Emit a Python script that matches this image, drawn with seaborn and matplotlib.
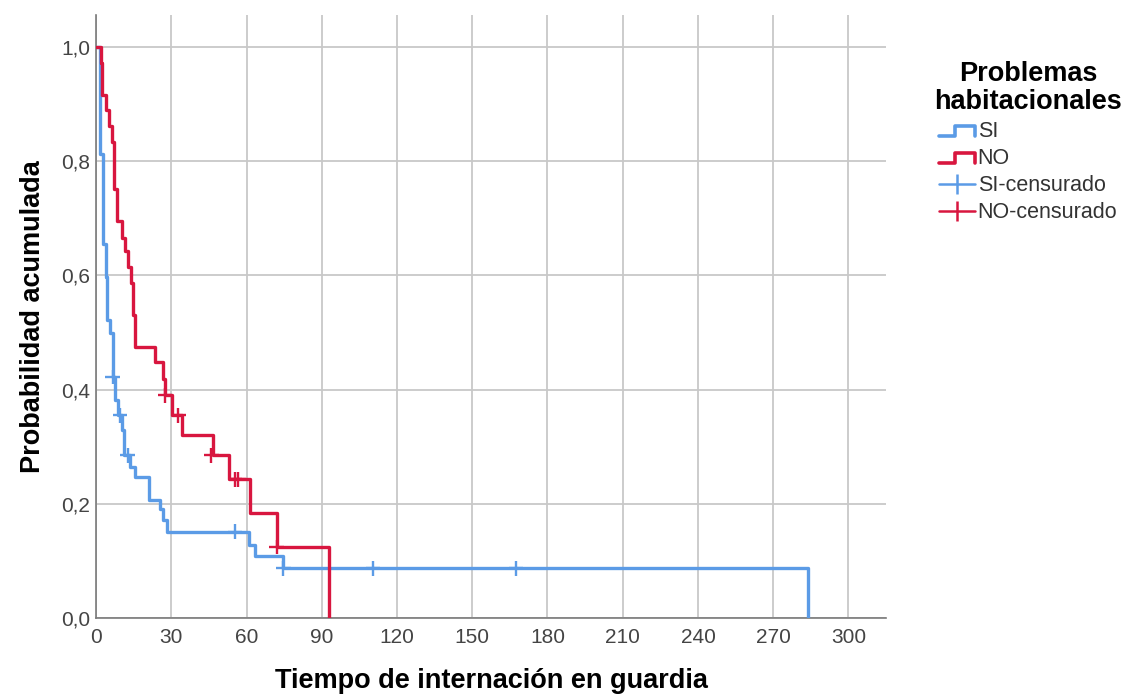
import numpy as np
import pandas as pd
import matplotlib
matplotlib.use("Agg")
import matplotlib.pyplot as plt
from matplotlib.lines import Line2D
from matplotlib.legend_handler import HandlerBase
from matplotlib.ticker import FuncFormatter
import seaborn as sns

# Kaplan-Meier step curves (time of event, cumulative probability after the event)
si_times = [0, 1.6, 2.7, 3.8, 4.5, 5.6, 6.6, 7.6, 8.8, 10.5, 11.2, 13.6, 15.6,
            21.3, 25.5, 26.5, 28.2, 60.8, 63.4, 74.7, 284]
si_probs = [1.0, 0.813, 0.655, 0.598, 0.522, 0.499, 0.422, 0.382, 0.355, 0.33,
            0.285, 0.265, 0.247, 0.207, 0.19, 0.172, 0.151, 0.128, 0.109, 0.087, 0.0]

no_times = [0, 1.8, 2.5, 3.9, 5.3, 6.5, 7.3, 8.2, 10.5, 11.6, 12.9, 13.8, 14.6,
            15.6, 23.5, 26.6, 27.5, 30.2, 34.4, 46.5, 53.0, 61.4, 72.0, 92.7]
no_probs = [1.0, 0.972, 0.916, 0.89, 0.862, 0.834, 0.752, 0.695, 0.665, 0.642,
            0.615, 0.586, 0.531, 0.475, 0.448, 0.418, 0.39, 0.355, 0.32, 0.285,
            0.243, 0.184, 0.124, 0.0]

# Censored observations
si_cens_t = [6.6, 9.6, 12.6, 55.4, 74.7, 110.5, 167.5]
si_cens_p = [0.422, 0.355, 0.285, 0.151, 0.087, 0.087, 0.087]
no_cens_t = [27.5, 32.8, 46.0, 55.4, 56.8, 72.0]
no_cens_p = [0.39, 0.355, 0.285, 0.243, 0.243, 0.124]

groups = ["SI", "NO"]
x_ticks = [0, 30, 60, 90, 120, 150, 180, 210, 240, 270, 300]
y_ticks = [0.0, 0.2, 0.4, 0.6, 0.8, 1.0]

BLUE = "#5B9BE6"
RED = "#D8163F"
palette = {"SI": BLUE, "NO": RED}

curves = pd.concat([
    pd.DataFrame({"t": si_times, "p": si_probs, "grupo": "SI"}),
    pd.DataFrame({"t": no_times, "p": no_probs, "grupo": "NO"}),
], ignore_index=True)
censored = pd.concat([
    pd.DataFrame({"t": si_cens_t, "p": si_cens_p, "grupo": "SI"}),
    pd.DataFrame({"t": no_cens_t, "p": no_cens_p, "grupo": "NO"}),
], ignore_index=True)

sns.set_theme(style="white")
plt.rcParams["font.family"] = ["Liberation Sans", "DejaVu Sans"]

fig = plt.figure(figsize=(11.26, 6.97), dpi=100)
ax = fig.add_axes([0.0853, 0.1134, 0.7016, 0.865])

sns.lineplot(data=curves, x="t", y="p", hue="grupo", hue_order=groups,
             palette=palette, drawstyle="steps-post", estimator=None,
             sort=False, linewidth=2.4, legend=False, ax=ax, zorder=3)
sns.scatterplot(data=censored, x="t", y="p", hue="grupo", hue_order=groups,
                palette=palette, marker="+", s=110, linewidth=1.7,
                legend=False, ax=ax, zorder=4)

ax.set_xlim(0, 315)
ax.set_ylim(0, 1.056)
ax.set_xticks(x_ticks)
ax.set_yticks(y_ticks)
ax.yaxis.set_major_formatter(FuncFormatter(lambda v, _: f"{v:.1f}".replace(".", ",")))
ax.grid(True, color="#C8C8C8", linewidth=1.3)
ax.set_axisbelow(True)
for side in ["top", "right"]:
    ax.spines[side].set_visible(False)
for side in ["left", "bottom"]:
    ax.spines[side].set_color("#7A7A7A")
    ax.spines[side].set_linewidth(1.2)
ax.tick_params(axis="both", labelsize=15, colors="#444444", length=0)
ax.tick_params(axis="x", pad=7)
ax.tick_params(axis="y", pad=4)

ax.set_xlabel("Tiempo de internación en guardia", fontsize=19.5,
              fontweight="bold", color="black", labelpad=15)
ax.set_ylabel("Probabilidad acumulada", fontsize=19.5,
              fontweight="bold", color="black", labelpad=11)


class StepHandler(HandlerBase):
    def create_artists(self, legend, orig_handle, xdescent, ydescent,
                       width, height, fontsize, trans):
        x0 = -xdescent
        y_lo = -ydescent + height * 0.1
        y_hi = -ydescent + height * 0.75
        xs = [x0, x0 + width * 0.45, x0 + width * 0.45, x0 + width, x0 + width]
        ys = [y_lo, y_lo, y_hi, y_hi, y_lo]
        line = Line2D(xs, ys, color=orig_handle.get_color(), linewidth=2.6,
                      transform=trans)
        return [line]


step_si = Line2D([], [], color=BLUE)
step_no = Line2D([], [], color=RED)
cens_si = Line2D([0], [0], color=BLUE, marker="|", markersize=14,
                 markeredgewidth=1.8, linewidth=1.8)
cens_no = Line2D([0], [0], color=RED, marker="|", markersize=14,
                 markeredgewidth=1.8, linewidth=1.8)

leg = fig.legend([step_si, step_no, cens_si, cens_no],
                 ["SI", "NO", "SI-censurado", "NO-censurado"],
                 handler_map={step_si: StepHandler(), step_no: StepHandler()},
                 title="Problemas\nhabitacionales", loc="upper center",
                 bbox_to_anchor=(0.913, 0.912), frameon=False, fontsize=15.5,
                 handlelength=1.7, handletextpad=0.1, labelspacing=0.28,
                 borderaxespad=0, borderpad=0)
leg.get_title().set_fontweight("bold")
leg.get_title().set_fontsize(19.5)
leg.get_title().set_color("black")
leg.get_title().set_multialignment("center")
leg.get_title().set_linespacing(1.1)
for txt in leg.get_texts():
    txt.set_color("#333333")

fig.savefig("out.png", dpi=100)
